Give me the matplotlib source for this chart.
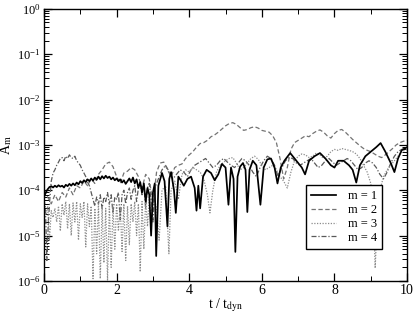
import numpy as np
import matplotlib
matplotlib.use("Agg")
import matplotlib.pyplot as plt
from matplotlib.ticker import LogLocator, NullFormatter, MultipleLocator

plt.rcParams['font.family'] = ['Liberation Serif', 'DejaVu Serif']
plt.rcParams['mathtext.fontset'] = 'stix'

m1_t = [0.00,0.05,0.10,0.15,0.20,0.25,0.30,0.35,0.40,0.45,0.50,0.55,0.60,0.65,0.70,0.75,0.80,0.85,0.90,0.95,
        1.00,1.05,1.10,1.15,1.20,1.25,1.30,1.35,1.40,1.45,1.50,1.55,1.60,1.65,1.70,1.75,1.80,1.85,1.90,1.95,
        2.00,2.05,2.10,2.15,2.20,2.25,2.30,2.35,2.40,2.45,2.50,2.55,2.60,2.65,2.70,2.75,2.80,2.85,2.90,2.95,
        3.00,3.05,3.09,3.15,3.25,3.32,3.40,3.45,3.50,3.58,3.63,3.70,3.78,3.85,3.95,4.05,4.15,4.20,4.25,4.30,
        4.38,4.48,4.60,4.70,4.80,4.90,5.00,5.08,5.15,5.22,5.27,5.33,5.40,5.48,5.55,5.60,5.66,5.75,5.85,5.96,
        6.05,6.15,6.25,6.35,6.43,6.52,6.62,6.78,6.90,7.00,7.10,7.19,7.30,7.45,7.60,7.75,7.90,8.00,8.10,8.25,
        8.40,8.50,8.60,8.70,8.85,9.00,9.15,9.27,9.40,9.55,9.65,9.75,9.85,10.0]
m1_log = [-4.15,-4.05,-3.98,-3.93,-3.91,-3.94,-3.90,-3.93,-3.89,-3.92,-3.90,-3.94,-3.88,-3.91,-3.86,-3.90,-3.85,-3.89,-3.83,-3.87,
          -3.80,-3.84,-3.78,-3.82,-3.76,-3.80,-3.74,-3.79,-3.72,-3.77,-3.70,-3.76,-3.69,-3.74,-3.68,-3.73,-3.70,-3.76,-3.72,-3.78,
          -3.74,-3.80,-3.76,-3.83,-3.78,-3.86,-3.80,-3.74,-3.82,-3.72,-3.85,-3.76,-3.95,-3.82,-4.05,-3.85,-4.25,-3.95,-4.10,-5.00,
          -4.05,-3.85,-5.45,-3.90,-3.62,-3.80,-4.80,-3.75,-3.60,-4.00,-4.50,-3.70,-3.80,-3.90,-3.75,-3.70,-3.95,-4.45,-3.90,-4.40,
          -3.70,-3.55,-3.62,-3.78,-3.65,-3.42,-3.50,-4.32,-3.50,-3.75,-5.36,-3.70,-3.48,-3.40,-3.55,-4.48,-3.55,-3.35,-3.45,-4.32,
          -3.50,-3.32,-3.30,-3.50,-3.85,-3.50,-3.35,-3.18,-3.30,-3.40,-3.50,-3.65,-3.35,-3.25,-3.18,-3.30,-3.45,-3.50,-3.35,-3.35,
          -3.45,-3.55,-3.83,-3.45,-3.25,-3.15,-3.05,-2.96,-3.15,-3.40,-3.60,-3.30,-3.12,-3.05]

m2_t = [0.0,0.1,0.2,0.3,0.4,0.5,0.6,0.7,0.8,0.9,1.0,1.1,1.2,1.3,1.4,1.5,1.6,1.7,1.8,1.9,
        2.0,2.1,2.2,2.3,2.4,2.5,2.6,2.7,2.8,2.9,3.0,3.1,3.2,3.3,3.4,3.5,3.6,3.7,3.8,3.9,
        4.0,4.1,4.2,4.3,4.4,4.5,4.6,4.7,4.8,4.9,5.0,5.1,5.2,5.3,5.4,5.5,5.6,5.7,5.8,5.9,
        6.0,6.1,6.2,6.3,6.4,6.5,6.6,6.7,6.8,6.9,7.0,7.1,7.2,7.3,7.4,7.5,7.6,7.7,7.8,7.9,
        8.0,8.1,8.2,8.3,8.4,8.5,8.6,8.7,8.8,8.9,9.0,9.1,9.2,9.3,9.4,9.5,9.6,9.7,9.8,9.9,10.0]
m2_log = [-4.00,-4.15,-4.30,-4.10,-4.25,-4.05,-4.15,-3.95,-4.10,-3.90,-3.95,-3.80,-3.90,-3.75,-3.85,-3.65,-3.55,-3.42,-3.38,-3.48,
          -3.70,-3.85,-3.62,-3.58,-3.50,-3.55,-3.70,-3.95,-3.65,-3.75,-4.30,-3.60,-3.40,-3.38,-3.55,-3.70,-3.50,-3.45,-3.42,-3.30,
          -3.22,-3.15,-3.05,-2.97,-2.95,-2.90,-2.82,-2.78,-2.72,-2.65,-2.58,-2.53,-2.51,-2.55,-2.62,-2.68,-2.66,-2.62,-2.60,-2.63,
          -2.68,-2.70,-2.72,-2.80,-2.95,-3.30,-3.75,-3.50,-3.10,-2.95,-2.90,-2.85,-2.80,-2.82,-2.75,-2.70,-2.67,-2.72,-2.80,-2.85,
          -2.75,-2.68,-2.66,-2.72,-2.80,-2.88,-2.95,-3.02,-3.08,-3.12,-3.15,-3.20,-3.25,-3.28,-3.22,-3.15,-3.08,-3.00,-2.95,-2.92,-2.90]

m3_t = [0.00,0.05,0.10,0.15,0.20,0.25,0.30,0.35,0.40,0.45,0.50,0.55,0.60,0.65,0.70,0.75,0.80,0.85,0.90,0.95,
        1.00,1.05,1.10,1.15,1.20,1.25,1.30,1.35,1.40,1.45,1.50,1.55,1.60,1.65,1.70,1.75,1.80,1.85,1.90,1.95,
        2.00,2.05,2.10,2.15,2.20,2.25,2.30,2.35,2.40,2.45,2.50,2.55,2.60,2.65,2.70,2.75,2.80,2.85,2.90,2.95,
        3.00,3.10,3.17,3.25,3.35,3.44,3.50,3.60,3.70,3.80,3.90,4.00,4.10,4.20,4.30,4.40,4.50,4.57,4.65,4.75,
        4.85,5.00,5.10,5.20,5.30,5.40,5.50,5.60,5.70,5.80,5.90,6.00,6.10,6.20,6.30,6.40,6.50,6.60,6.70,6.80,
        6.90,7.00,7.10,7.20,7.30,7.40,7.50,7.60,7.70,7.80,7.90,8.00,8.10,8.20,8.30,8.40,8.50,8.60,8.70,8.80,
        8.90,9.00,9.07,9.12,9.18,9.25,9.35,9.45,9.55,9.65,9.75,9.85,10.0]
m3_log = [-4.40,-4.55,-4.35,-5.10,-4.45,-4.60,-4.40,-4.70,-4.35,-4.90,-4.30,-4.55,-4.25,-4.85,-4.30,-5.00,-4.28,-4.70,-4.25,-5.10,
          -4.30,-4.60,-4.25,-5.25,-4.30,-4.80,-4.35,-5.95,-4.40,-5.40,-4.30,-5.95,-4.35,-5.60,-4.40,-5.98,-4.30,-5.70,-4.35,-5.30,
          -4.30,-4.90,-4.35,-5.35,-4.30,-5.55,-4.35,-5.20,-4.30,-4.70,-4.25,-5.00,-4.30,-5.80,-4.25,-5.30,-4.20,-4.80,-4.15,-4.60,
          -4.05,-4.40,-5.10,-4.00,-3.90,-5.40,-4.00,-3.80,-4.20,-3.65,-3.55,-3.60,-3.50,-3.55,-3.60,-3.75,-4.10,-4.50,-4.00,-3.60,
          -3.45,-3.35,-3.30,-3.28,-3.40,-3.55,-3.50,-3.40,-3.30,-3.25,-3.32,-3.45,-3.55,-3.50,-3.45,-3.55,-3.70,-3.80,-3.95,-3.60,
          -3.35,-3.25,-3.20,-3.22,-3.28,-3.25,-3.18,-3.22,-3.30,-3.25,-3.15,-3.10,-3.12,-3.08,-3.10,-3.12,-3.15,-3.20,-3.30,-3.45,
          -3.60,-3.85,-4.40,-5.72,-4.60,-4.00,-3.70,-3.55,-3.45,-3.35,-3.25,-3.15,-3.10]

m4_t = [0.00,0.04,0.08,0.12,0.16,0.20,0.25,0.30,0.35,0.40,0.45,0.50,0.55,0.60,0.65,0.70,0.75,0.80,0.85,0.90,
        0.95,1.00,1.05,1.10,1.15,1.20,1.25,1.30,1.35,1.40,1.45,1.50,1.55,1.60,1.65,1.70,1.75,1.80,1.85,1.90,
        1.95,2.00,2.05,2.10,2.15,2.20,2.25,2.30,2.35,2.40,2.45,2.50,2.55,2.60,2.65,2.70,2.75,2.80,2.85,2.90,
        2.95,3.00,3.05,3.15,3.25,3.35,3.45,3.55,3.65,3.75,3.85,3.95,4.05,4.15,4.25,4.35,4.45,4.55,4.65,4.75,
        4.85,4.95,5.05,5.15,5.25,5.35,5.45,5.55,5.65,5.75,5.85,5.95,6.05,6.15,6.25,6.35,6.45,6.55,6.65,6.75,
        6.85,6.95,7.05,7.15,7.25,7.35,7.45,7.55,7.65,7.75,7.85,7.95,8.05,8.15,8.25,8.35,8.45,8.55,8.65,8.75,
        8.85,8.95,9.05,9.15,9.25,9.35,9.45,9.55,9.65,9.75,9.85,10.0]
m4_log = [-4.20,-4.40,-5.55,-4.70,-4.20,-3.80,-3.62,-3.55,-3.45,-3.38,-3.30,-3.28,-3.35,-3.25,-3.30,-3.22,-3.28,-3.30,-3.25,-3.35,
          -3.40,-3.45,-3.55,-3.62,-3.70,-3.82,-3.90,-4.05,-4.20,-4.35,-4.15,-4.30,-4.10,-4.40,-4.15,-4.25,-4.05,-4.30,-4.10,-4.50,
          -4.15,-4.20,-4.05,-4.65,-4.10,-4.00,-4.30,-4.05,-3.95,-4.20,-4.00,-3.90,-4.25,-3.95,-3.85,-4.10,-3.90,-4.40,-3.95,-3.85,
          -4.20,-4.70,-3.95,-3.75,-3.55,-3.45,-3.60,-3.75,-3.65,-3.55,-3.60,-3.70,-3.55,-3.45,-3.40,-3.35,-3.30,-3.40,-3.50,-3.45,
          -3.35,-3.30,-3.38,-3.45,-3.50,-3.40,-3.30,-3.35,-3.45,-3.60,-3.70,-3.50,-3.35,-3.25,-3.30,-3.45,-3.70,-3.50,-3.35,-3.28,
          -3.30,-3.40,-3.45,-3.40,-3.35,-3.30,-3.40,-3.50,-3.45,-3.35,-3.30,-3.38,-3.45,-3.40,-3.35,-3.30,-3.35,-3.45,-3.55,-3.50,
          -3.40,-3.35,-3.40,-3.50,-3.65,-3.75,-3.60,-3.40,-3.25,-3.15,-3.10,-3.05]

labels = ["m = 1", "m = 2", "m = 3", "m = 4"]

fig = plt.figure(figsize=(4.15, 3.16), dpi=100)
ax = fig.add_axes([0.106, 0.111, 0.875, 0.861])

ax.plot(m4_t, 10**np.array(m4_log), color='0.35', lw=0.9, dashes=(4, 1.5, 1, 1.5), label=labels[3], zorder=2)
ax.plot(m3_t, 10**np.array(m3_log), color='0.55', lw=0.9, dashes=(1, 1.2), label=labels[2], zorder=2)
ax.plot(m2_t, 10**np.array(m2_log), color='0.45', lw=0.9, dashes=(3.5, 2), label=labels[1], zorder=2)
ax.plot(m1_t, 10**np.array(m1_log), color='black', lw=1.25, label=labels[0], zorder=3)

ax.set_yscale('log')
ax.set_xlim(0, 10)
ax.set_ylim(1e-6, 1)
ax.xaxis.set_major_locator(MultipleLocator(2))
ax.xaxis.set_minor_locator(MultipleLocator(1))
ax.yaxis.set_major_locator(LogLocator(base=10, numticks=10))
ax.yaxis.set_minor_locator(LogLocator(base=10, subs=np.arange(2, 10), numticks=10))
ax.yaxis.set_minor_formatter(NullFormatter())
ax.tick_params(which='both', direction='in', top=True, right=True)
ax.tick_params(axis='x', labelsize=10)
ax.tick_params(axis='y', labelsize=9)
ax.tick_params(which='major', length=6, width=0.9, pad=2.5)
ax.tick_params(which='minor', length=3.5, width=0.7)
for s in ax.spines.values():
    s.set_linewidth(1.0)

ax.set_xlabel(r"t / t$_{\rm dyn}$", fontsize=10, labelpad=-1)
ax.set_ylabel(r"A$_{\rm m}$", fontsize=10)
ax.yaxis.set_label_coords(-0.082, 0.5)

h, l = ax.get_legend_handles_labels()
order = [3, 2, 1, 0]
leg = ax.legend([h[i] for i in order], [l[i] for i in order], loc='lower right',
                bbox_to_anchor=(0.93, 0.118), fontsize=9, frameon=True, fancybox=False,
                edgecolor='black', framealpha=1, handlelength=2.0, borderpad=0.4,
                labelspacing=0.15, handletextpad=0.9, borderaxespad=0)
leg.get_frame().set_linewidth(1.0)

fig.savefig("out.png", dpi=100)
